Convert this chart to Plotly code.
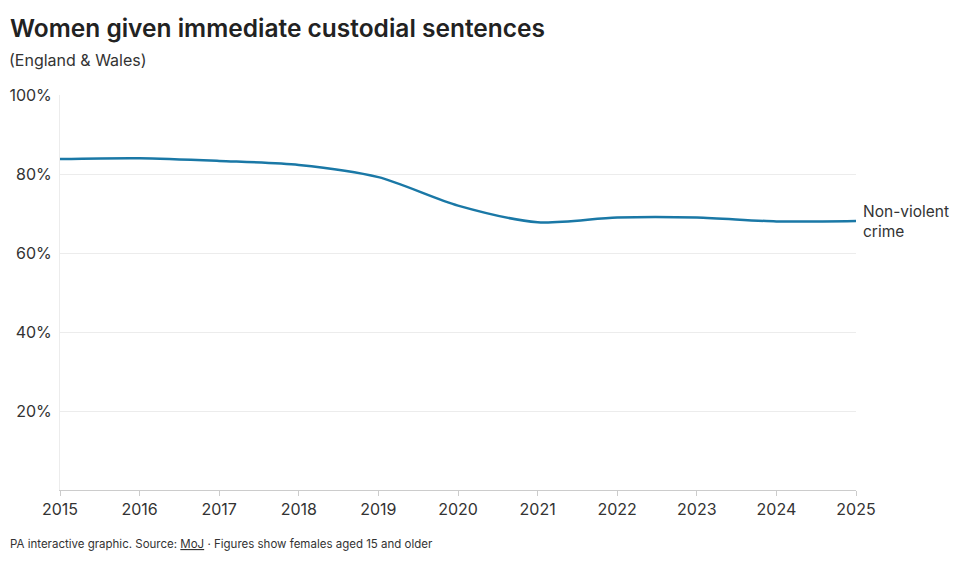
import plotly.graph_objects as go

# Share of women given immediate custodial sentences, non-violent crime (%)
years = [2015, 2016, 2017, 2018, 2019, 2020, 2021, 2022, 2023, 2024, 2025]
non_violent = [83.8, 84.0, 83.3, 82.3, 79.2, 72.0, 67.8, 69.0, 69.0, 68.0, 68.1]

y_ticks = [20, 40, 60, 80, 100]
y_tick_labels = ["20%", "40%", "60%", "80%", "100%"]

LINE_COLOR = "#1a78a6"
TEXT_COLOR = "#333333"
FONT = "Inter, Roboto, Arial, sans-serif"

# page body has an 8px margin, so the figure is drawn a bit smaller
W, H = 952, 555
PLOT_W, PLOT_H = 796, 395

fig = go.Figure()

fig.add_trace(
    go.Scatter(
        x=years, y=non_violent,
        mode="lines",
        line=dict(color=LINE_COLOR, width=2.5, shape="spline", smoothing=0.8),
        showlegend=False,
        hoverinfo="skip",
    )
)

# end label
fig.add_annotation(
    x=years[-1], y=non_violent[-1],
    text="Non-violent<br>crime",
    showarrow=False,
    xanchor="left", yanchor="middle",
    xshift=5, align="left",
    font=dict(size=15.5, color=TEXT_COLOR, family=FONT),
)

fig.update_xaxes(
    range=[2015, 2025],
    tickvals=years,
    showgrid=False,
    showline=True, linecolor="#cccccc", linewidth=1,
    ticks="outside", ticklen=5, tickcolor="#cccccc",
    tickfont=dict(size=16, color=TEXT_COLOR, family=FONT),
    zeroline=False, automargin=False,
)
fig.update_yaxes(
    range=[0, 100],
    tickvals=y_ticks,
    ticktext=y_tick_labels,
    showgrid=True, gridcolor="#ececec", gridwidth=1,
    showline=True, linecolor="#ececec", linewidth=1,
    tickfont=dict(size=16, color=TEXT_COLOR, family=FONT),
    ticks="", ticklabelstandoff=4, zeroline=False, automargin=False,
)

fig.update_layout(
    width=W, height=H,
    plot_bgcolor="white", paper_bgcolor="white",
    margin=dict(l=52, r=W - 52 - PLOT_W, t=87, b=H - 87 - PLOT_H),
    font=dict(family=FONT, color=TEXT_COLOR),
    title=dict(
        text="Women given immediate custodial sentences",
        x=2 / W, xanchor="left", xref="container",
        y=1 - 20 / H, yanchor="middle", yref="container",
        font=dict(size=24.5, color="#222222", family=FONT, weight=600),
    ),
)

fig.add_annotation(
    text="(England &amp; Wales)",
    xref="paper", yref="paper",
    x=-53 / PLOT_W, y=1 + 35 / PLOT_H,
    xanchor="left", yanchor="middle",
    showarrow=False,
    font=dict(size=16, color=TEXT_COLOR, family=FONT),
)

fig.add_annotation(
    text="PA interactive graphic. Source: <u>MoJ</u> · Figures show females aged 15 and older",
    xref="paper", yref="paper",
    x=-52 / PLOT_W, y=-54 / PLOT_H,
    xanchor="left", yanchor="middle",
    showarrow=False,
    font=dict(size=11.5, color=TEXT_COLOR, family=FONT),
)

fig.write_html("out.html")
